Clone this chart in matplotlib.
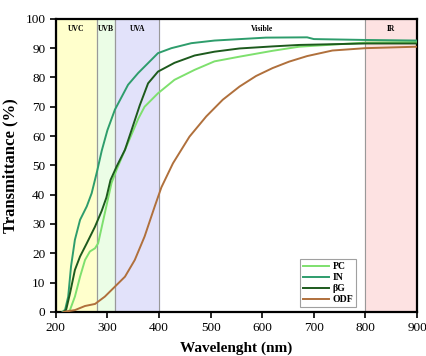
import numpy as np
import matplotlib
matplotlib.use('Agg')
from matplotlib import pyplot as plt

plt.rcParams['font.family'] = ['Liberation Serif', 'DejaVu Serif']

# transmittance readings (nm, %)
wl_pc = [223, 227.6, 237, 247, 256.6, 266, 276, 282, 295, 308, 317.8, 334, 346.7, 360, 372, 398, 430, 469, 507.5, 556, 620, 671.6, 800, 900]
t_pc = [0, 0.7, 5.2, 12, 17.7, 20.6, 21.7, 23.4, 33.7, 44, 48.5, 55.3, 60.5, 66, 70, 74.6, 79.2, 82.6, 85.5, 87.1, 89.1, 90.5, 91.9, 92.1]

wl_in = [213, 218, 224, 229.5, 237, 247, 260, 269.5, 280, 289, 300, 314.5, 340, 359.5, 378.8, 398, 424, 462.5, 507.5, 607, 687, 700, 800, 900]
t_in = [0, 0.7, 5.2, 15.5, 24.6, 31.4, 36, 40.5, 48, 55, 62, 69, 77.5, 81.5, 84.9, 88.3, 90, 91.7, 92.6, 93.6, 93.7, 93.1, 92.8, 92.6]

wl_bg = [216, 220, 227.6, 237, 247, 260, 276, 289, 298, 306, 317.8, 334, 346.7, 362.7, 378.8, 398, 430, 469, 507.5, 556, 620, 671.6, 800, 900]
t_bg = [0, 0.7, 6.4, 14.3, 18.9, 23.4, 29.1, 34.5, 39, 45, 49.6, 55.3, 62, 70.5, 78, 82, 85, 87.5, 88.8, 89.9, 90.6, 91.1, 91.6, 91.6]

wl_odf = [215, 237, 256.6, 276, 295, 314.5, 334, 353, 372, 391.7, 404.6, 427, 459, 491.5, 523.5, 556, 588, 620, 652, 687, 736, 800, 900]
t_odf = [0, 0.6, 2, 2.7, 5.2, 8.6, 12, 17.7, 25.7, 36, 42.5, 50.7, 59.8, 66.7, 72.4, 76.9, 80.5, 83.2, 85.4, 87.3, 89.2, 90, 90.5]

# spectral regions
regions = [('UVC', 200, 280, '#ffffcc'), ('UVB', 280, 315, '#ebfde6'),
           ('UVA', 315, 400, '#e2e2fa'), ('IR', 800, 900, '#fde2e2')]
visible_label = ('Visible', 600)

fig = plt.figure(figsize=(4.26, 3.56), dpi=100)
ax = fig.add_axes([0.131, 0.124, 0.848, 0.823])

for name, lo, hi, col in regions:
    ax.axvspan(lo, hi, color=col, zorder=0)
    ax.axvline(lo, color='#999999', lw=0.8, zorder=1)
    ax.axvline(hi, color='#999999', lw=0.8, zorder=1)
    ax.text((lo + hi) / 2, 96.5, name, ha='center', va='center', fontsize=5.5, fontweight='bold')
ax.text(visible_label[1], 96.5, visible_label[0], ha='center', va='center', fontsize=5.5, fontweight='bold')

ax.plot(wl_pc, t_pc, color='#7ee06e', lw=1.4, label='PC', zorder=3)
ax.plot(wl_in, t_in, color='#2e9d6c', lw=1.4, label='IN', zorder=3)
ax.plot(wl_bg, t_bg, color='#1d5a1d', lw=1.4, label='βG', zorder=3)
ax.plot(wl_odf, t_odf, color='#b0703c', lw=1.4, label='ODF', zorder=3)

ax.set_xlim(200, 900)
ax.set_ylim(0, 100)
ax.set_xticks(np.arange(200, 901, 100))
ax.set_yticks(np.arange(0, 101, 10))
ax.tick_params(direction='out', length=4, width=1.2, labelsize=9.5)
for s in ax.spines.values():
    s.set_linewidth(1.6)

ax.set_xlabel('Wavelenght (nm)', fontsize=11, fontweight='bold', labelpad=5)
ax.set_ylabel('Transmittance (%)', fontsize=12, fontweight='bold', labelpad=5)

leg = ax.legend(loc='lower right', bbox_to_anchor=(0.845, 0.0), frameon=True,
                fancybox=False, handlelength=2.6, borderpad=0.3, labelspacing=0.2,
                handletextpad=0.4, prop={'weight': 'bold', 'size': 7})
leg.get_frame().set_edgecolor('#888888')
leg.get_frame().set_linewidth(0.8)

fig.savefig('out.png', dpi=100)
